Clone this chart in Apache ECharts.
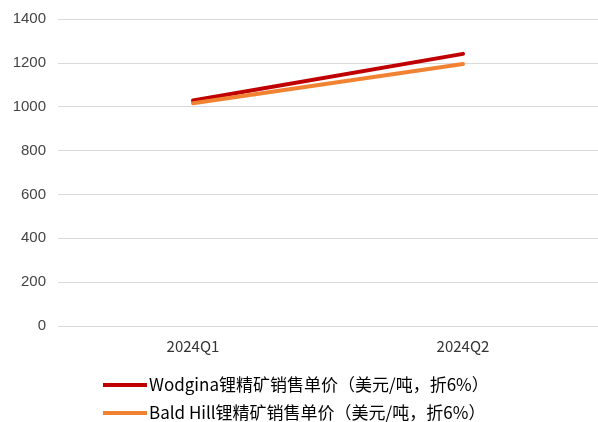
<!DOCTYPE html>
<html><head><meta charset="utf-8">
<script src="https://cdn.jsdelivr.net/npm/echarts@6/dist/echarts.min.js"></script>
<style>html,body{margin:0;padding:0;background:#fff}#c{width:598px;height:422px}</style>
</head><body><div id="c"></div>
<script>
const categories = ['2024Q1', '2024Q2'];
const wodgina = [1028, 1241];
const baldHill = [1016, 1195];
const seriesNames = ['Wodgina锂精矿销售单价（美元/吨，折6%）', 'Bald Hill锂精矿销售单价（美元/吨，折6%）'];
const yTicks = { min: 0, max: 1400, interval: 200 };

const legendText = { fontFamily: 'Noto Sans CJK SC', fontSize: 17, lineHeight: 18, color: '#000', padding: [0, 0, 0, -3] };
const chart = echarts.init(document.getElementById('c'));
chart.setOption({
  animation: false,
  grid: { left: 58, right: 0, top: 19, bottom: 96 },
  legend: [
    { left: 103, top: 376, padding: 0, itemWidth: 44, itemHeight: 4, icon: 'rect', textStyle: legendText, data: [seriesNames[0]] },
    { left: 103, top: 404, padding: 0, itemWidth: 44, itemHeight: 4, icon: 'rect', textStyle: legendText, data: [seriesNames[1]] }
  ],
  xAxis: {
    type: 'category', data: categories, boundaryGap: true,
    axisLine: { show: false }, axisTick: { show: false },
    axisLabel: { margin: 13, fontFamily: 'Noto Sans CJK SC', fontSize: 15, color: '#333' }
  },
  yAxis: {
    type: 'value', min: yTicks.min, max: yTicks.max, interval: yTicks.interval,
    axisLine: { show: false }, axisTick: { show: false },
    axisLabel: { margin: 12, fontFamily: 'Liberation Sans', fontSize: 15, color: '#444', formatter: v => String(v) },
    splitLine: { lineStyle: { color: '#d9d9d9', width: 1 } }
  },
  series: [
    { name: seriesNames[0], type: 'line', data: wodgina, symbol: 'none',
      lineStyle: { color: '#C00000', width: 4, cap: 'round' }, itemStyle: { color: '#C00000' } },
    { name: seriesNames[1], type: 'line', data: baldHill, symbol: 'none',
      lineStyle: { color: '#F08232', width: 4, cap: 'round' }, itemStyle: { color: '#F08232' } }
  ]
});
</script></body></html>
